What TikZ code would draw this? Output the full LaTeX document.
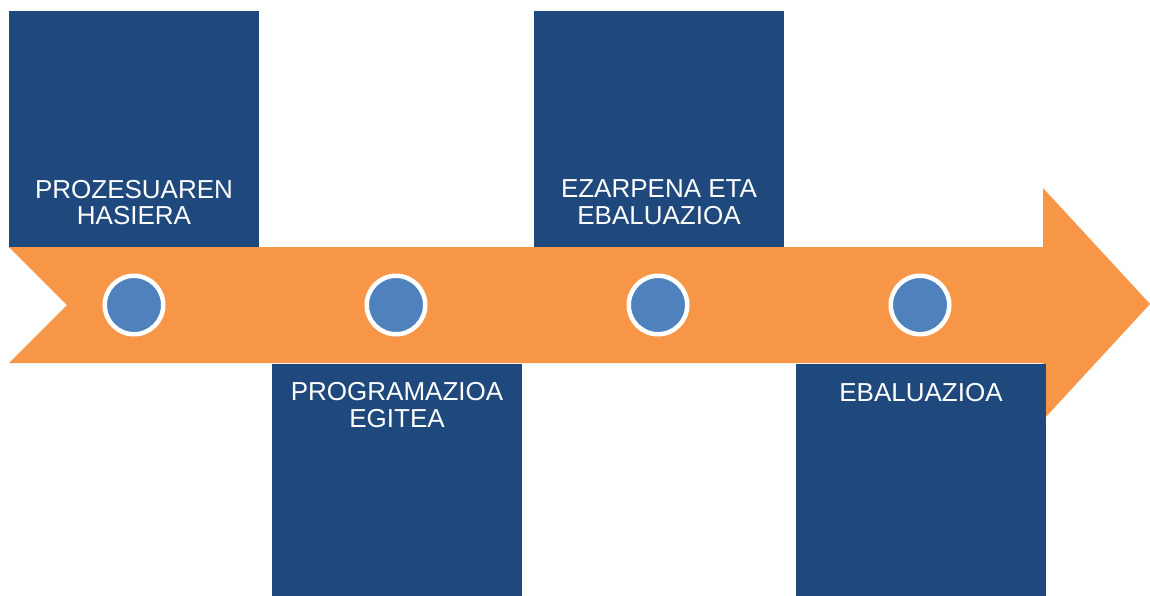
\documentclass[tikz,border=0pt]{standalone}
\usepackage{fontspec}
\setmainfont{Liberation Sans}
\definecolor{boxblue}{HTML}{1F497D}
\definecolor{arroworange}{HTML}{F79646}
\definecolor{dotblue}{HTML}{4F81BD}
\begin{document}
\begin{tikzpicture}[x=1pt,y=-1pt,
  stepbox/.style={fill=boxblue, draw=none, minimum width=250pt, inner sep=0pt, outer sep=0pt},
  topbox/.style={stepbox, minimum height=236pt},
  botbox/.style={stepbox, minimum height=232pt},
  lbl/.style={text=white, font=\fontsize{26}{26.5}\selectfont, align=center, inner sep=0pt},
  dot/.style={circle, fill=dotblue, draw=white, line width=4.5pt, minimum size=58.5pt, inner sep=0pt}]
\useasboundingbox (0,0) rectangle (1150,595);
% arrow
\fill[arroworange] (9,247) -- (1043,247) -- (1043,188) -- (1150,304) -- (1043,420)
  -- (1043,363) -- (9,363) -- (67,305) -- cycle;
% boxes
\node[topbox] (b1) at (134,129) {};
\node[botbox] (b2) at (397,480) {};
\node[topbox] (b3) at (659,129) {};
\node[botbox] (b4) at (921,480) {};
% labels
\node[lbl] (t1) at (134,202.5) {PROZESUAREN\\HASIERA};
\node[lbl] (t2) at (397,405) {PROGRAMAZIOA\\EGITEA};
\node[lbl] (t3) at (659,202.2) {EZARPENA ETA\\EBALUAZIOA};
\node[lbl] (t4) at (921,392.2) {EBALUAZIOA};
% dots
\node[dot] (d1) at (134,305) {};
\node[dot] (d2) at (396,305) {};
\node[dot] (d3) at (658,305) {};
\node[dot] (d4) at (920,305) {};
\end{tikzpicture}
\end{document}
